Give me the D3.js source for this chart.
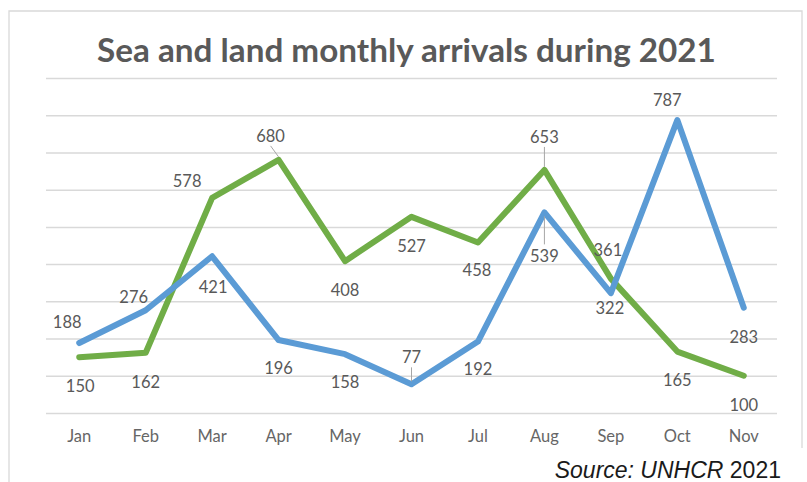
<!DOCTYPE html>
<html>
<head>
<meta charset="utf-8">
<script src="https://cdn.jsdelivr.net/npm/d3@7"></script>
<style>
  html, body { margin: 0; padding: 0; background: #ffffff; }
  svg { display: block; }
</style>
</head>
<body>
<svg id="chart" width="807" height="482"></svg>
<script>
// ---- data ----
const months = ["Jan", "Feb", "Mar", "Apr", "May", "Jun", "Jul", "Aug", "Sep", "Oct", "Nov"];
const landArrivals = [188, 276, 421, 196, 158, 77, 192, 539, 322, 787, 283];   // blue series
const seaArrivals  = [150, 162, 578, 680, 408, 527, 458, 653, 361, 165, 100];  // green series
const gridTicks = [0, 100, 200, 300, 400, 500, 600, 700, 800, 900];
const titleText = "Sea and land monthly arrivals during 2021";

// ---- label placement (style config, not data) ----
const blueLabelOffsets  = [[-12,-21],[-12,-13],[1,31],[0,28],[0,28],[0,-27],[0,28],[0,44],[-1,15],[-10,-20],[0,29]];
const greenLabelOffsets = [[1,29],[0,29],[-25,-17],[-8,-24],[0,29],[0,29],[-1,28],[0,-33],[-3,-29],[0,28],[0,29]];
const blueLeaders  = [false,false,false,false,false,true,false,true,false,false,false];
const greenLeaders = [false,false,false,true,false,false,false,true,false,false,false];

const svg = d3.select("#chart");
const plot = { left: 46, right: 777, top: 78, bottom: 413 };
const GREEN = "#70ad47", BLUE = "#5b9bd5";
const TEXT = "#595959", GRID = "#d9d9d9";
const FONT = "Lato, 'Open Sans', sans-serif";

// frame
svg.append("path")
  .attr("d", `M9,482 L9,11 L802,11 L802,448`)
  .attr("fill", "none").attr("stroke", GRID).attr("stroke-width", 1.3);

// title
const title = svg.append("text")
  .attr("x", 406.5).attr("y", 62)
  .attr("text-anchor", "middle")
  .attr("font-family", FONT).attr("font-weight", "bold")
  .attr("font-size", 30).attr("fill", TEXT)
  .text(titleText);
{
  const target = 619;
  const len = title.node().getComputedTextLength();
  title.attr("font-size", 30 * target / len);
}

// scales
const x = d3.scaleBand().domain(months).range([plot.left, plot.right]).padding(0);
const y = d3.scaleLinear().domain([0, 900]).range([plot.bottom, plot.top]);
const cx = m => x(m) + x.bandwidth() / 2;

// gridlines
const grid = svg.append("g")
  .attr("transform", `translate(${plot.left},0)`)
  .call(d3.axisLeft(y).tickValues(gridTicks).tickSize(-(plot.right - plot.left)).tickFormat(""));
grid.select(".domain").remove();
grid.selectAll(".tick line").attr("stroke", GRID).attr("stroke-width", 1.5);

// x axis labels
const xAxis = svg.append("g")
  .attr("transform", `translate(0,${plot.bottom})`)
  .call(d3.axisBottom(x).tickSize(0).tickPadding(17));
xAxis.select(".domain").remove();
xAxis.selectAll("text")
  .attr("font-family", FONT).attr("font-size", 16.5).attr("fill", "#666666");

// lines
const line = d3.line()
  .x((d, i) => cx(months[i]))
  .y(d => y(d));

function drawSeries(values, color) {
  svg.append("path")
    .datum(values)
    .attr("d", line)
    .attr("fill", "none")
    .attr("stroke", color)
    .attr("stroke-width", 6)
    .attr("stroke-linejoin", "round")
    .attr("stroke-linecap", "round");
}
drawSeries(seaArrivals, GREEN);
drawSeries(landArrivals, BLUE);

// data labels
function drawLabels(values, offsets, leaders) {
  const g = svg.append("g");
  values.forEach((v, i) => {
    const px = cx(months[i]), py = y(v);
    const [dx, dy] = offsets[i];
    const lx = px + dx, ly = py + dy;
    if (leaders[i]) {
      const edge = dy < 0 ? ly + 10 : ly - 12;
      const end = dy < 0 ? py - 3 : py + 4;
      g.append("line")
        .attr("x1", lx).attr("y1", edge)
        .attr("x2", px).attr("y2", end)
        .attr("stroke", "#a6a6a6").attr("stroke-width", 1);
    }
    g.append("text")
      .attr("x", lx).attr("y", ly)
      .attr("dy", "0.36em")
      .attr("text-anchor", "middle")
      .attr("font-family", FONT).attr("font-size", 16.5)
      .attr("fill", TEXT)
      .text(v);
  });
}
drawLabels(seaArrivals, greenLabelOffsets, greenLeaders);
drawLabels(landArrivals, blueLabelOffsets, blueLeaders);

// source note
const src = svg.append("text")
  .attr("x", 781).attr("y", 478)
  .attr("text-anchor", "end")
  .attr("font-family", "'Liberation Sans', Arial, sans-serif")
  .attr("font-size", 23).attr("fill", "#1a1a1a");
src.append("tspan").attr("font-style", "italic").text("Source: UNHCR");
src.append("tspan").text(" 2021");
</script>
</body>
</html>
